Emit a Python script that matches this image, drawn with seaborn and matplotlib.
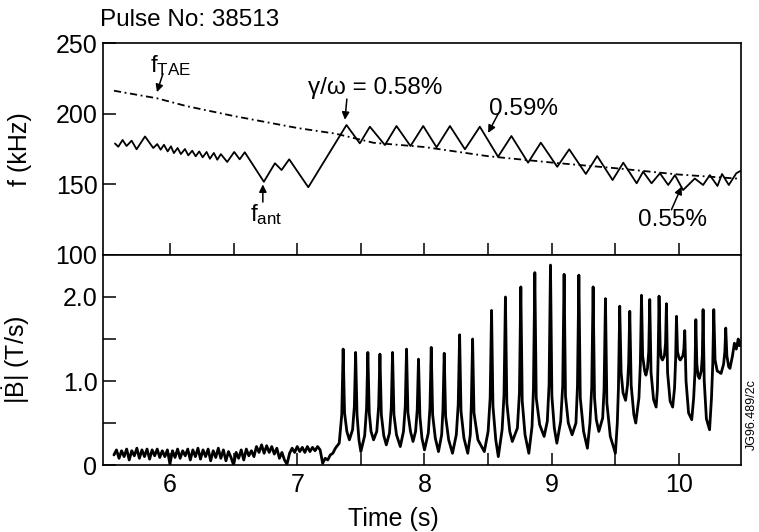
import matplotlib
matplotlib.use("Agg")
import matplotlib.pyplot as plt
import matplotlib.ticker as mticker
import seaborn as sns
import numpy as np

# ---------------- data ----------------
# top panel: TAE frequency (dash-dot)
t_tae = [5.56, 5.90, 6.13, 6.50, 7.00, 7.30, 7.60, 8.00, 8.50, 9.00, 9.50, 10.00, 10.48]
f_tae = [216.4, 211.0, 205.5, 198.5, 190.0, 186.0, 179.5, 176.5, 170.0, 165.5, 161.5, 157.0, 154.0]

# top panel: antenna frequency sweep (solid zig-zag)
t_ant = [5.568, 5.594, 5.628, 5.659, 5.699, 5.738, 5.804, 5.869, 5.900, 5.927,
         5.953, 5.982, 6.008, 6.031, 6.060, 6.086, 6.118, 6.144, 6.175, 6.202,
         6.230, 6.257, 6.288, 6.314, 6.345, 6.372, 6.400, 6.450, 6.505, 6.548,
         6.588, 6.738, 6.825, 6.877, 6.937, 7.087, 7.387, 7.492, 7.571, 7.689,
         7.780, 7.890, 7.990, 8.095, 8.200, 8.318, 8.435, 8.578, 8.683, 8.814,
         8.914, 9.043, 9.137, 9.268, 9.357, 9.478, 9.562, 9.667, 9.718, 9.784,
         9.850, 9.915, 9.968, 10.032, 10.124, 10.189, 10.242, 10.302, 10.338, 10.391,
         10.450, 10.485]
f_ant = [179.0, 176.7, 181.5, 177.2, 181.0, 174.9, 184.0, 175.8, 178.6, 174.6,
         178.1, 173.4, 177.0, 172.2, 175.8, 171.5, 175.1, 170.6, 173.9, 169.9,
         173.4, 169.2, 173.0, 168.2, 172.3, 167.5, 171.5, 165.9, 173.0, 167.8,
         172.8, 151.9, 165.0, 160.2, 167.8, 148.0, 192.1, 179.1, 190.9, 177.9,
         191.4, 177.2, 191.4, 176.3, 191.4, 174.9, 190.9, 169.6, 184.3, 165.4,
         179.6, 162.5, 174.9, 157.4, 170.1, 153.1, 165.4, 150.8, 159.0, 150.8,
         157.9, 149.6, 156.6, 146.0, 154.2, 149.6, 156.6, 148.9, 157.4, 149.6,
         157.9, 159.7]

# bottom panel: |dB/dt| trace
t_b = [5.56, 5.58, 5.60, 5.62, 5.64, 5.66, 5.68, 5.70, 5.72, 5.74, 5.76, 5.78, 5.80, 5.82,
       5.84, 5.86, 5.88, 5.90, 5.92, 5.94, 5.96, 5.98, 6.00, 6.02, 6.04, 6.06, 6.08, 6.10,
       6.12, 6.14, 6.16, 6.18, 6.20, 6.22, 6.24, 6.26, 6.28, 6.30, 6.32, 6.34, 6.36, 6.38,
       6.40, 6.42, 6.44, 6.46, 6.48, 6.50, 6.52, 6.54, 6.56, 6.58, 6.60, 6.62, 6.64, 6.66,
       6.68, 6.70, 6.72, 6.74, 6.76, 6.78, 6.80, 6.82, 6.84, 6.86, 6.88, 6.90, 6.92, 6.94,
       6.96, 6.98, 7.00, 7.02, 7.04, 7.06, 7.08, 7.10, 7.12, 7.14, 7.16, 7.18, 7.20, 7.22,
       7.24, 7.26, 7.28, 7.30, 7.33, 7.35,
       7.361, 7.372, 7.39, 7.41, 7.435, 7.449, 7.459, 7.470, 7.485, 7.50,
       7.53, 7.545, 7.555, 7.566, 7.58, 7.60, 7.625, 7.640, 7.650, 7.661,
       7.68, 7.70, 7.725, 7.739, 7.749, 7.760, 7.78, 7.81, 7.835, 7.849,
       7.859, 7.870, 7.89, 7.91, 7.93, 7.943, 7.953, 7.964, 7.98, 8.00,
       8.03, 8.043, 8.053, 8.064, 8.085, 8.11, 8.135, 8.145, 8.155, 8.166,
       8.19, 8.22, 8.25, 8.265, 8.276, 8.287, 8.31, 8.34, 8.36, 8.368,
       8.378, 8.389, 8.42, 8.47, 8.50, 8.516, 8.527, 8.538, 8.56, 8.58,
       8.61, 8.625, 8.636, 8.647, 8.67, 8.69, 8.73, 8.746, 8.757, 8.768,
       8.79, 8.82, 8.845, 8.856, 8.867, 8.878, 8.905, 8.94, 8.965, 8.979,
       8.990, 9.001, 9.02, 9.04, 9.07, 9.086, 9.097, 9.108, 9.13, 9.16,
       9.19, 9.202, 9.213, 9.224, 9.25, 9.28, 9.30, 9.314, 9.325, 9.336,
       9.35, 9.37, 9.40, 9.411, 9.422, 9.433, 9.46, 9.50, 9.515, 9.524,
       9.534, 9.545, 9.56, 9.58, 9.595, 9.604, 9.613, 9.624, 9.645, 9.66,
       9.685, 9.696, 9.705, 9.714, 9.73, 9.74, 9.752, 9.762, 9.770, 9.780,
       9.80, 9.82, 9.830, 9.836, 9.843, 9.852, 9.86, 9.87, 9.885, 9.894,
       9.901, 9.910, 9.93, 9.95, 9.965, 9.973, 9.980, 9.988, 10.00, 10.01,
       10.03, 10.038, 10.045, 10.055, 10.075, 10.10, 10.115, 10.125, 10.132, 10.14,
       10.15, 10.16, 10.175, 10.183, 10.189, 10.198, 10.215, 10.24, 10.255, 10.265,
       10.273, 10.283, 10.30, 10.33, 10.35, 10.360, 10.367, 10.376, 10.39, 10.40,
       10.42, 10.435, 10.45, 10.465, 10.475, 10.49]
b_val = [0.12, 0.18, 0.08, 0.17, 0.10, 0.19, 0.06, 0.17, 0.11, 0.20, 0.08, 0.18, 0.10, 0.19,
         0.07, 0.18, 0.11, 0.19, 0.09, 0.17, 0.10, 0.18, 0.01, 0.17, 0.09, 0.19, 0.08, 0.17,
         0.11, 0.19, 0.06, 0.18, 0.10, 0.20, 0.07, 0.18, 0.10, 0.19, 0.05, 0.17, 0.09, 0.20,
         0.08, 0.18, 0.05, 0.16, 0.09, 0.00, 0.15, 0.08, 0.18, 0.06, 0.19, 0.11, 0.17, 0.10,
         0.22, 0.15, 0.24, 0.14, 0.23, 0.15, 0.22, 0.13, 0.20, 0.08, 0.15, 0.06, 0.01, 0.14,
         0.20, 0.15, 0.22, 0.16, 0.21, 0.15, 0.22, 0.16, 0.21, 0.17, 0.22, 0.18, 0.02, 0.08,
         0.06, 0.12, 0.14, 0.20, 0.26, 0.60,
         1.38, 0.62, 0.40, 0.30, 0.42, 0.70, 1.34, 0.60, 0.30, 0.16,
         0.35, 0.68, 1.34, 0.62, 0.40, 0.30, 0.40, 0.70, 1.32, 0.60,
         0.35, 0.24, 0.38, 0.68, 1.34, 0.60, 0.36, 0.22, 0.40, 0.70,
         1.38, 0.62, 0.40, 0.28, 0.40, 0.66, 1.26, 0.58, 0.32, 0.18,
         0.38, 0.68, 1.40, 0.60, 0.32, 0.16, 0.36, 0.66, 1.33, 0.58,
         0.30, 0.14, 0.36, 0.72, 1.55, 0.64, 0.32, 0.14, 0.36, 0.72,
         1.50, 0.62, 0.30, 0.16, 0.40, 0.80, 1.84, 0.70, 0.30, 0.10,
         0.42, 0.84, 2.00, 0.74, 0.40, 0.28, 0.44, 0.86, 2.12, 0.76,
         0.36, 0.14, 0.46, 0.90, 2.29, 0.80, 0.48, 0.34, 0.52, 0.96,
         2.38, 0.82, 0.44, 0.26, 0.52, 0.94, 2.27, 0.82, 0.50, 0.36,
         0.50, 0.94, 2.26, 0.80, 0.40, 0.20, 0.50, 0.92, 2.12, 0.80,
         0.54, 0.40, 0.56, 0.90, 1.98, 0.74, 0.34, 0.14, 0.50, 0.92,
         1.89, 1.10, 0.86, 0.77, 0.95, 1.20, 1.83, 0.95, 0.60, 0.50,
         0.80, 1.20, 2.02, 1.30, 1.12, 1.07, 1.15, 1.35, 1.97, 1.10,
         0.78, 0.69, 0.90, 1.30, 2.01, 1.40, 1.28, 1.25, 1.30, 1.45,
         1.92, 1.10, 0.76, 0.69, 0.92, 1.25, 1.77, 1.35, 1.27, 1.25,
         1.30, 1.38, 1.60, 1.00, 0.62, 0.54, 0.80, 1.10, 1.73, 1.20,
         1.06, 1.03, 1.12, 1.30, 1.85, 1.00, 0.55, 0.42, 0.80, 1.20,
         1.85, 1.25, 1.12, 1.09, 1.20, 1.35, 1.63, 1.30, 1.17, 1.15,
         1.30, 1.45, 1.38, 1.50, 1.42, 1.47]

top_yticks = [100, 150, 200, 250]
bot_yticks = [0, 1.0, 2.0]
bot_yticklabels = ["0", "1.0", "2.0"]
xticks = [6, 7, 8, 9, 10]

# ---------------- style ----------------
sns.set_style("white")
plt.rcParams["font.family"] = ["Liberation Sans", "DejaVu Sans"]
plt.rcParams["mathtext.fontset"] = "custom"
plt.rcParams["mathtext.rm"] = "Liberation Sans"
plt.rcParams["mathtext.it"] = "Liberation Sans:italic"
for k in ("text.color", "axes.labelcolor", "xtick.color", "ytick.color", "axes.edgecolor"):
    plt.rcParams[k] = "black"
plt.rcParams["axes.linewidth"] = 1.2

FS = 18
FA = 17.5

fig = plt.figure(figsize=(7.59, 5.32), dpi=100)
ax1 = fig.add_axes([0.1357, 0.5207, 0.8406, 0.3979])
ax2 = fig.add_axes([0.1357, 0.1259, 0.8406, 0.3948])

xlim = (5.474, 10.487)

# top panel
sns.lineplot(x=t_tae, y=f_tae, ax=ax1, color="black", lw=1.3,
             linestyle=(0, (4, 2, 1, 2)), estimator=None, sort=False)
sns.lineplot(x=t_ant, y=f_ant, ax=ax1, color="black", lw=1.3,
             estimator=None, sort=False)
ax1.set_xlim(*xlim)
ax1.set_ylim(100, 250)
ax1.set_yticks(top_yticks)
ax1.set_xticks(xticks)
ax1.xaxis.set_minor_locator(mticker.FixedLocator([6.5, 7.5, 8.5, 9.5]))
ax1.tick_params(axis="x", which="both", direction="in", length=9, width=1.1,
                labelbottom=False, bottom=True)
ax1.tick_params(axis="y", which="major", direction="in", length=9, width=1.1,
                labelsize=FS, pad=4, left=True)
ax1.set_ylabel("f (kHz)", fontsize=FS)
ax1.yaxis.set_label_coords(-0.112, 0.5)
ax1.set_xlabel("")

# annotations (top)
arrow = dict(arrowstyle="-|>", color="black", lw=1.1, mutation_scale=11,
             shrinkA=0, shrinkB=0)
ax1.text(6.008, 233.9, r"$\mathrm{f}_{\mathrm{TAE}}$", fontsize=FA, ha="center", va="center")
ax1.annotate("", xy=(5.898, 215.4), xytext=(5.945, 228.5), arrowprops=arrow)
ax1.text(6.754, 129.0, r"$\mathrm{f}_{\mathrm{ant}}$", fontsize=FA, ha="center", va="center")
ax1.annotate("", xy=(6.73, 150.0), xytext=(6.73, 137.5), arrowprops=arrow)
ax1.text(7.614, 218.3, "γ/ω = 0.58%", fontsize=FA, ha="center", va="center")
ax1.annotate("", xy=(7.375, 195.8), xytext=(7.39, 210.5), arrowprops=arrow)
ax1.text(8.781, 203.8, "0.59%", fontsize=FA, ha="center", va="center")
ax1.annotate("", xy=(8.50, 186.5), xytext=(8.579, 200.0), arrowprops=arrow)
ax1.text(9.947, 124.8, "0.55%", fontsize=FA, ha="center", va="center")
ax1.annotate("", xy=(10.02, 148.4), xytext=(9.94, 132.0), arrowprops=arrow)

# bottom panel
sns.lineplot(x=t_b, y=b_val, ax=ax2, color="black", lw=2.0,
             estimator=None, sort=False)
ax2.set_xlim(*xlim)
ax2.set_ylim(0, 2.5)
ax2.set_yticks(bot_yticks)
ax2.set_yticklabels(bot_yticklabels)
ax2.yaxis.set_minor_locator(mticker.FixedLocator([0.5, 1.5]))
ax2.set_xticks(xticks)
ax2.set_xticklabels([str(v) for v in xticks])
ax2.xaxis.set_minor_locator(mticker.FixedLocator([6.5, 7.5, 8.5, 9.5]))
ax2.tick_params(axis="x", which="both", direction="in", length=9, width=1.1,
                labelsize=FS, pad=6, bottom=True)
ax2.tick_params(axis="y", which="both", direction="in", length=9, width=1.1,
                labelsize=FS, pad=4, left=True)
ax2.set_ylabel(r"$|\dot{\mathrm{B}}|$ (T/s)", fontsize=FS)
ax2.yaxis.set_label_coords(-0.112, 0.5)
ax2.set_xlabel("Time (s)", fontsize=FS)
ax2.xaxis.set_label_coords(0.455, -0.2)

for ax in (ax1, ax2):
    for s in ax.spines.values():
        s.set_color("black")
        s.set_linewidth(1.2)

fig.text(0.1318, 0.962, "Pulse No: 38513", fontsize=17.5, ha="left", va="center")
fig.text(0.991, 0.22, "JG96.489/2c", fontsize=9, rotation=90, ha="center", va="center")

fig.savefig("out.png", dpi=100, facecolor="white")
